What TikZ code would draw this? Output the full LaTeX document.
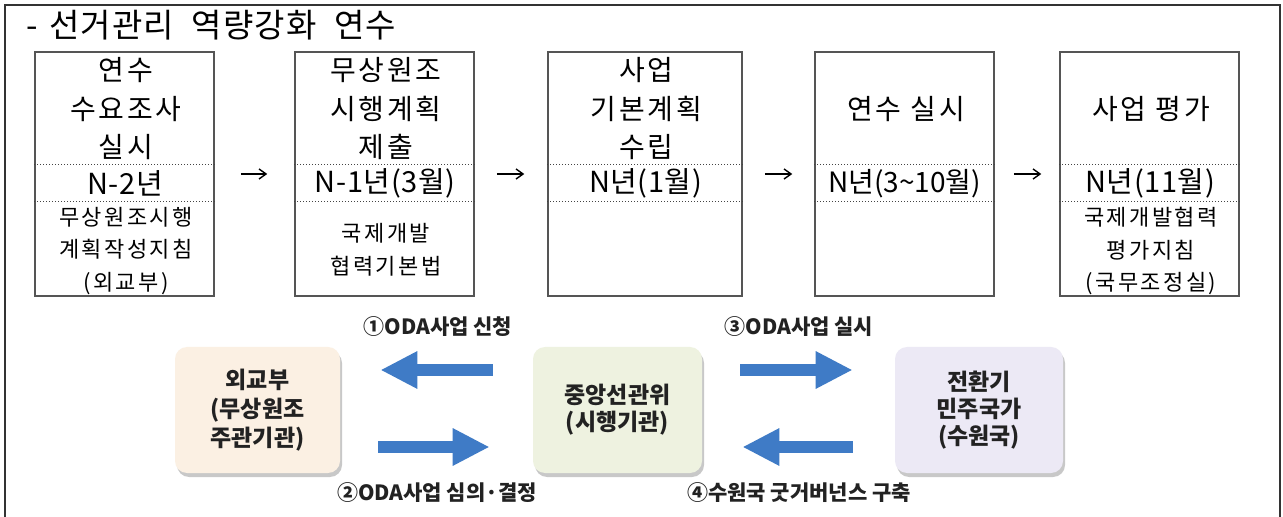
\documentclass[tikz,border=0pt]{standalone}
\usepackage{fontspec}
\setmainfont{Noto Sans CJK KR}
\usetikzlibrary{arrows.meta,shadows}
\definecolor{framec}{HTML}{333333}
\definecolor{boxc}{HTML}{555555}
\definecolor{dotc}{HTML}{444444}
\definecolor{peach}{HTML}{FBF0E3}
\definecolor{mint}{HTML}{EEF2E0}
\definecolor{lav}{HTML}{ECE9F5}
\definecolor{bluearr}{HTML}{3F7BC6}
\definecolor{txtc}{HTML}{222222}
\begin{document}
\begin{tikzpicture}[x=0.5pt,y=-0.5pt,
  stepbox/.style={draw=boxc, line width=0.75pt, minimum width=89.5pt, minimum height=122pt, inner sep=0pt},
  dotline/.style={draw=dotc, line width=0.5pt, dash pattern=on 0.5pt off 1pt},
  toptext/.style={align=center, inner sep=0pt, font=\fontsize{14}{19.25}\selectfont\addfontfeature{LetterSpace=10}},
  midtext/.style={align=center, inner sep=0pt, font=\fontsize{14.5}{16}\selectfont\addfontfeature{LetterSpace=2}},
  bottext/.style={align=center, inner sep=0pt, font=\fontsize{11}{16.25}\selectfont\addfontfeature{LetterSpace=11}},
  flowarr/.style={draw=black, line width=0.7pt, -{Straight Barb[length=3.5pt,width=5pt]}},
  rbox/.style={rounded corners=6pt, minimum height=63pt, inner sep=0pt, align=center,
    text=txtc, font=\bfseries\fontsize{11.5}{14.5}\selectfont,
    drop shadow={shadow xshift=1pt, shadow yshift=-2pt, fill=gray!60, opacity=0.7}},
  blockarr/.style={draw=bluearr, line width=6pt, -{Triangle[length=18.5pt,width=17.5pt]}},
  arrlabel/.style={inner sep=0pt, text=txtc, font=\bfseries\fontsize{10.5}{12}\selectfont}]
\useasboundingbox (0,0) rectangle (1283,517);
\fill[white] (0,0) rectangle (1283,517);
% outer frame
\draw[draw=framec, line width=0.75pt] (5,517) -- (5,5) -- (1280,5) -- (1280,517);
% title
\node[anchor=west, inner sep=0pt, font=\fontsize{16.5}{18}\selectfont\addfontfeature{LetterSpace=3}] (title) at (26,25) {-\hspace{0.35em}선거관리\hspace{0.55em}역량강화\hspace{0.55em}연수};
% step boxes
\node[stepbox] (b1) at (124.5,174) {};
\node[stepbox] (b2) at (384.5,174) {};
\node[stepbox, minimum width=97pt] (b3) at (645,174) {};
\node[stepbox] (b4) at (904.5,174) {};
\node[stepbox] (b5) at (1149.5,174) {};
\coordinate (d1) at (0,165);
\coordinate (d2) at (0,202);
\foreach \b in {b1,b2,b3,b4,b5}{
  \draw[dotline] (\b.west |- d1) -- (\b.east |- d1);
  \draw[dotline] (\b.west |- d2) -- (\b.east |- d2);
}
% top texts
\node[toptext] (t1) at (126,109) {연수\\수요조사\\실시};
\node[toptext] (t2) at (386,109) {무상원조\\시행계획\\제출};
\node[toptext] (t3) at (646.5,109) {사업\\기본계획\\수립};
\node[toptext] (t4) at (906,109) {연수 실시};
\node[toptext] (t5) at (1151,109) {사업 평가};
% middle texts
\node[midtext] (m1) at (125,183.5) {N-2년};
\node[midtext] (m2) at (385,183.5) {N-1년(3월)};
\node[midtext] (m3) at (645.5,183.5) {N년(1월)};
\node[midtext, font=\fontsize{14}{16}\selectfont] (m4) at (904.5,183.5) {N년(3\textasciitilde10월)};
\node[midtext] (m5) at (1150,183.5) {N년(11월)};
% bottom texts
\node[bottext] (u1) at (126,251) {무상원조시행\\계획작성지침\\(외교부)};
\node[bottext] (u2) at (386,250) {국제개발\\협력기본법};
\node[bottext] (u5) at (1151,251) {국제개발협력\\평가지침\\(국무조정실)};
% flow arrows
\draw[flowarr, shorten <=13pt, shorten >=13.5pt] (b1.east) -- (b2.west);
\draw[flowarr, shorten <=11pt, shorten >=11.5pt] (b2.east) -- (b3.west);
\draw[flowarr, shorten <=11pt, shorten >=11pt] (b3.east) -- (b4.west);
\draw[flowarr, shorten <=9.5pt, shorten >=9pt] (b4.east) -- (b5.west);
% lower diagram
\node[rbox, fill=peach, minimum width=82.5pt] (lft) at (257.5,410) {외교부\\(무상원조\\주관기관)};
\node[rbox, fill=mint, minimum width=84.5pt, font=\bfseries\fontsize{11.5}{13.5}\selectfont] (ctr) at (617.5,410) {중앙선관위\\(시행기관)};
\node[rbox, fill=lav, minimum width=84pt, font=\bfseries\fontsize{11.5}{13.5}\selectfont] (rgt) at (979,410) {전환기\\민주국가\\(수원국)};
\draw[blockarr, shorten <=20pt, shorten >=20pt] ([yshift=20pt]ctr.west) -- ([yshift=20pt]lft.east);
\draw[blockarr, shorten <=19pt, shorten >=21.5pt] ([yshift=-18.5pt]lft.east) -- ([yshift=-18.5pt]ctr.west);
\draw[blockarr, shorten <=19pt, shorten >=21pt] ([yshift=20pt]ctr.east) -- ([yshift=20pt]rgt.west);
\draw[blockarr, shorten <=21pt, shorten >=20pt] ([yshift=-18.5pt]rgt.west) -- ([yshift=-18.5pt]ctr.east);
\node[arrlabel] (l1) at (438,327) {①ODA사업 신청};
\node[arrlabel] (l2) at (437,493) {②ODA사업 심의·결정};
\node[arrlabel] (l3) at (799,327) {③ODA사업 실시};
\node[arrlabel] (l4) at (799,493) {④수원국 굿거버넌스 구축};
\end{tikzpicture}
\end{document}
